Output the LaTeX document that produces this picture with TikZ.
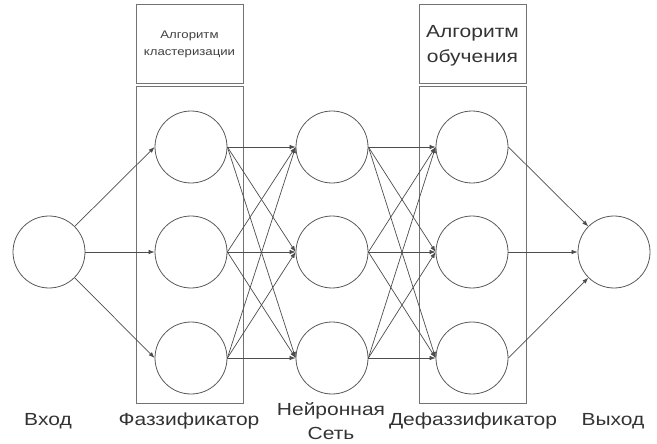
\documentclass[tikz,border=0pt]{standalone}
\usepackage{fontspec}
\setmainfont{Liberation Sans}
\newfontfamily\wf[FakeStretch=1.2]{Liberation Sans}
\usetikzlibrary{arrows.meta}
\begin{document}
\begin{tikzpicture}[x=1pt,y=-1pt,
  neuron/.style={circle,draw=black!65,line width=0.8pt,minimum size=72pt,inner sep=0pt},
  frame/.style={draw=black!55,line width=1pt},
  conn/.style={draw=black!70,line width=0.7pt,-{Latex[length=6pt,width=4.5pt]}},
  lbl/.style={font=\wf\fontsize{17.5}{24}\selectfont,text=black!80,align=center},
  ]
\useasboundingbox (0,0) rectangle (657,444);
% frames
\draw[frame] (136,5) rectangle (243,84);
\draw[frame] (136,87) rectangle (243,403);
\draw[frame] (419,5) rectangle (526,84);
\draw[frame] (419,87) rectangle (526,403);
\node[font=\wf\fontsize{11}{17}\selectfont,text=black!75,align=center] (h1) at (189.5,44) {Алгоритм\\кластеризации};
\node[font=\wf\fontsize{17.5}{25}\selectfont,text=black!80,align=center] (h2) at (472.5,46) {Алгоритм\\обучения};
% neurons
\node[neuron] (in) at (49,252) {};
\node[neuron] (f1) at (191,147) {};
\node[neuron] (f2) at (191,252) {};
\node[neuron] (f3) at (191,358) {};
\node[neuron] (n1) at (332,147) {};
\node[neuron] (n2) at (332,252) {};
\node[neuron] (n3) at (332,358) {};
\node[neuron] (d1) at (472,147) {};
\node[neuron] (d2) at (472,252) {};
\node[neuron] (d3) at (472,358) {};
\node[neuron] (out) at (614,252) {};
% connections
\foreach \t in {f1,f2,f3} \draw[conn] (in) -- (\t.west);
\foreach \s in {f1,f2,f3} \foreach \t in {n1,n2,n3} \draw[conn] (\s.east) -- (\t.west);
\foreach \s in {n1,n2,n3} \foreach \t in {d1,d2,d3} \draw[conn] (\s.east) -- (\t.west);
\foreach \s in {d1,d2,d3} \draw[conn] (\s.east) -- (out);
% labels
\node[lbl] (l1) at (48,421) {Вход};
\node[lbl] (l2) at (189,421) {Фаззификатор};
\node[lbl] (l3) at (331,421) {Нейронная\\Сеть};
\node[lbl] (l4) at (473,421) {Дефаззификатор};
\node[lbl] (l5) at (613,421) {Выход};
\end{tikzpicture}
\end{document}
